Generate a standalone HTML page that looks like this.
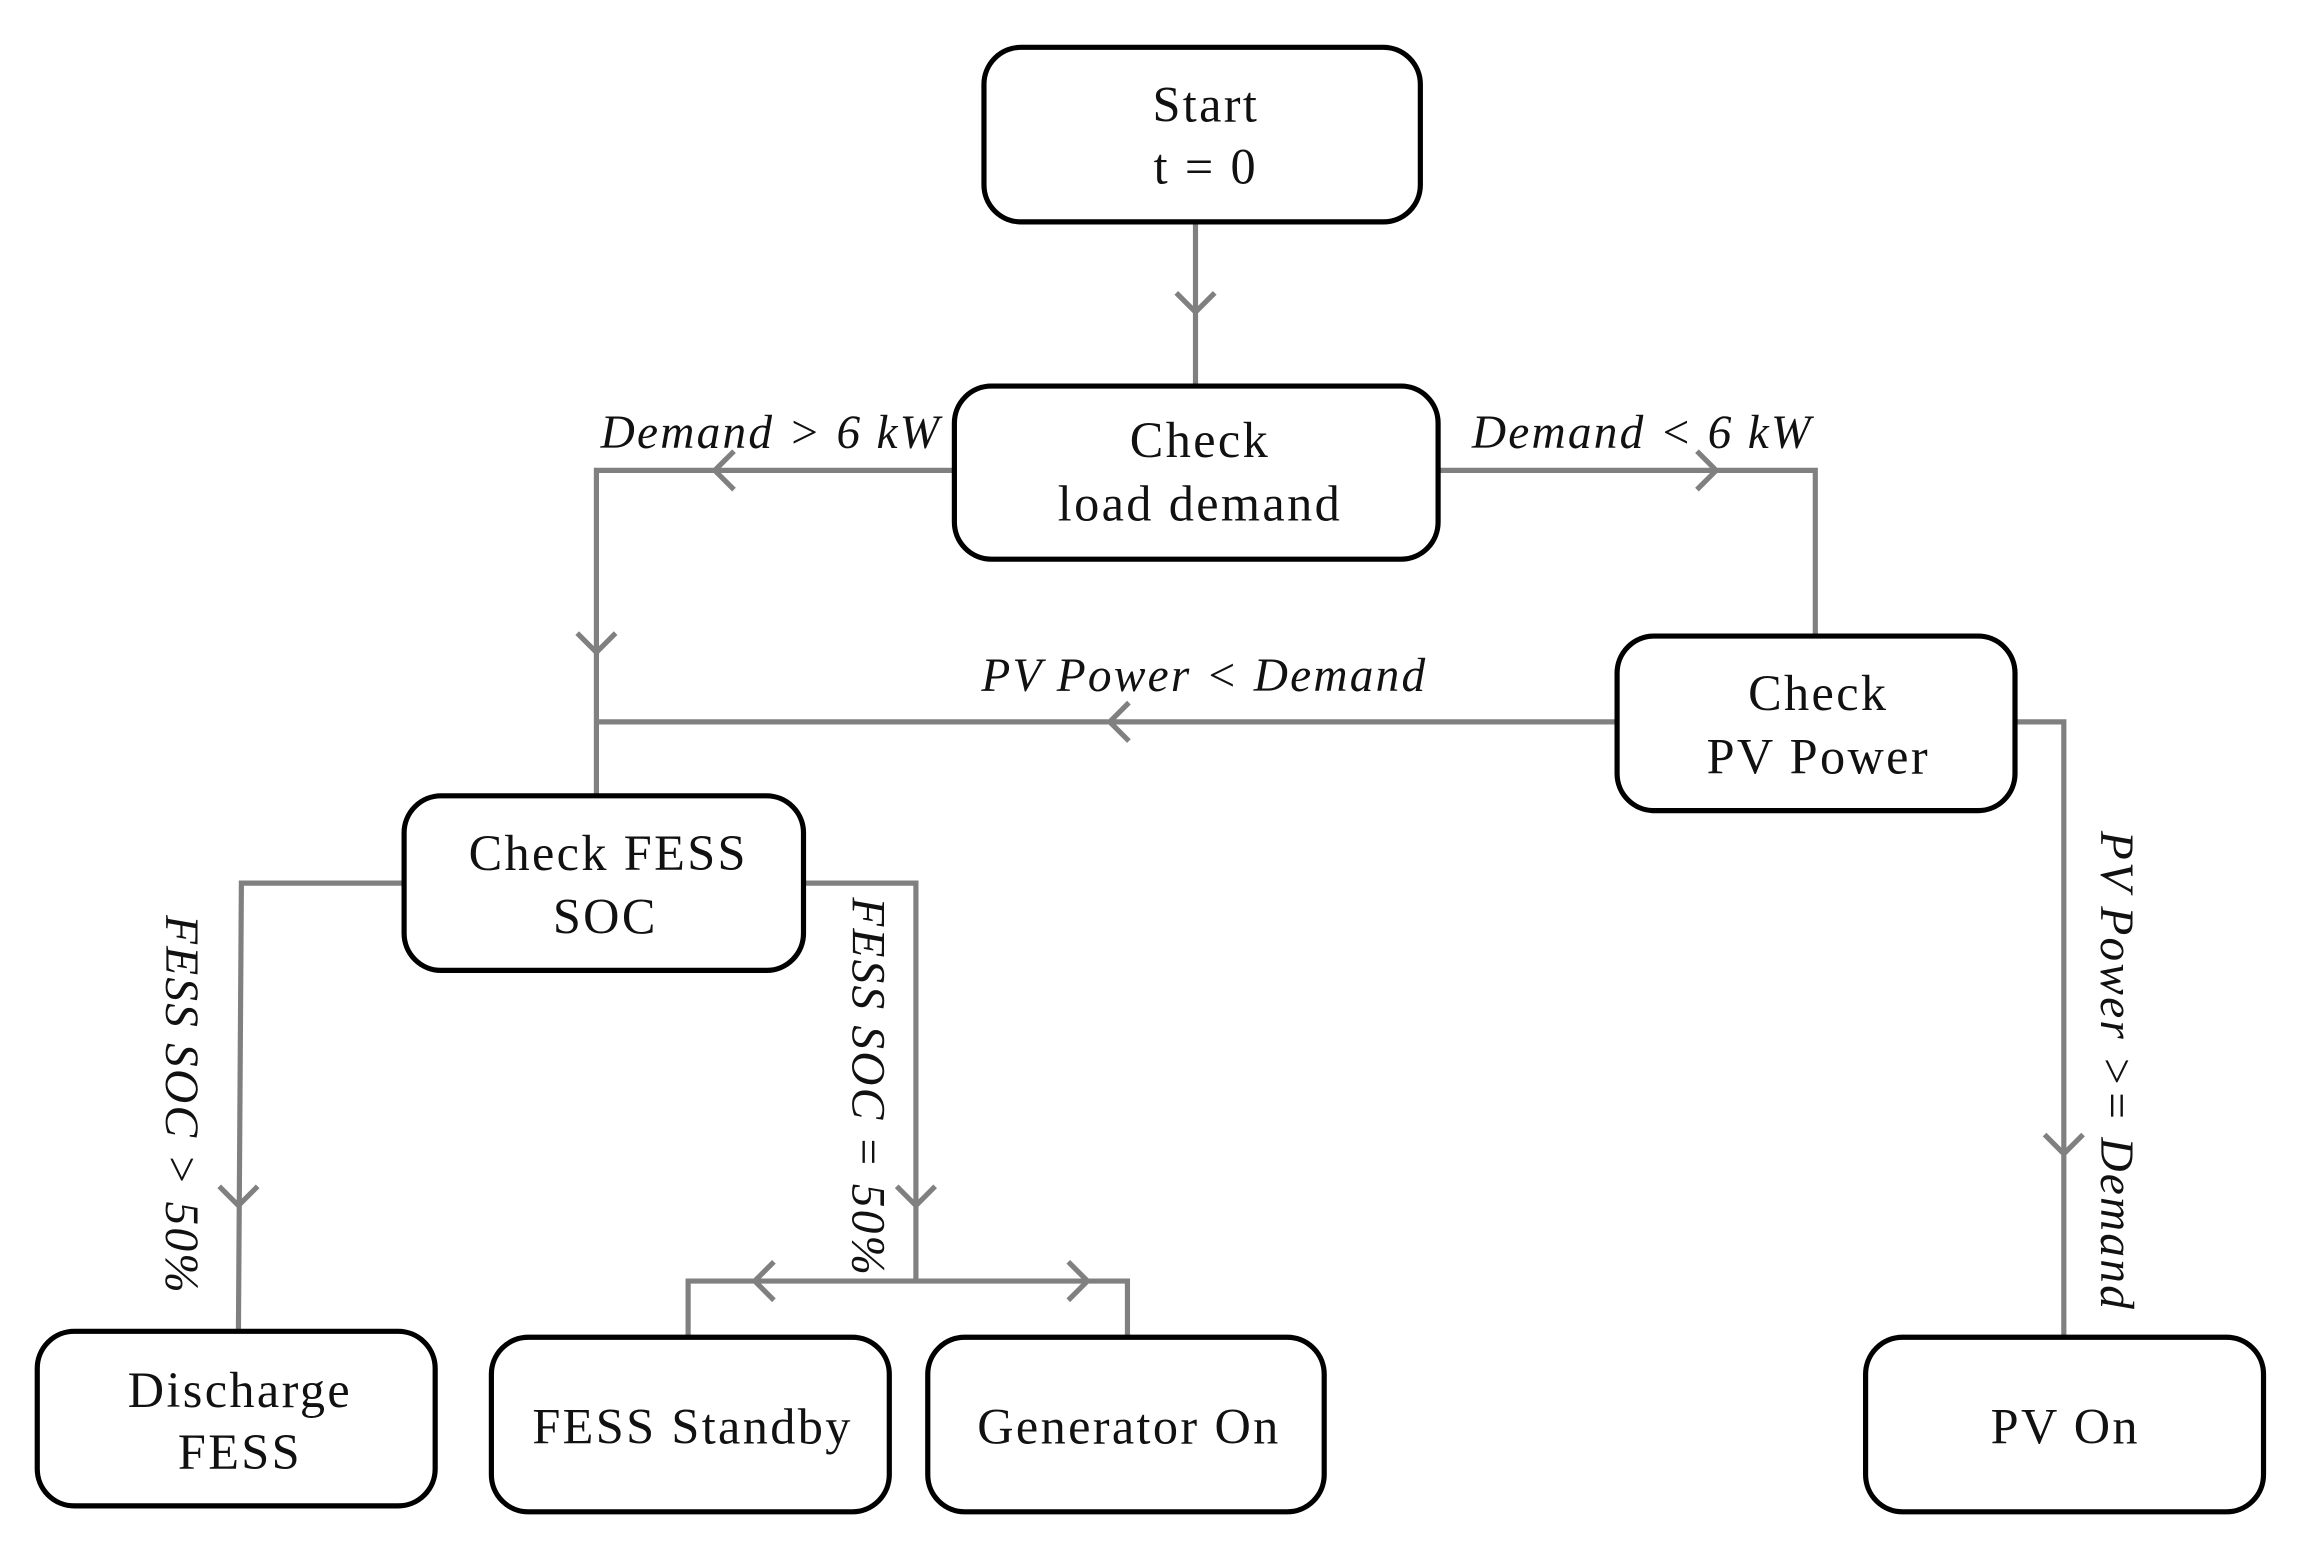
<!DOCTYPE html>
<html><head><meta charset="utf-8"><style>
html,body{margin:0;padding:0;background:#fff;}
svg{display:block;}
text{font-family:"Liberation Serif",serif;fill:#111;}
.b{fill:#fff;stroke:#000;stroke-width:3.5;}
.l{fill:none;stroke:#808080;stroke-width:3.5;}
.t{font-size:34px;text-anchor:middle;letter-spacing:1.6px;}
.i{font-size:32px;font-style:italic;text-anchor:middle;letter-spacing:1.5px;}
</style></head><body>
<svg width="2320" height="1568" viewBox="0 0 1568 1060" xmlns="http://www.w3.org/2000/svg">
<path class="l" d="M808 150V261M795 198L808 211L821 198"/>
<path class="l" d="M645 318H403V538M496 305L483 318L496 331M390 428L403 441L416 428"/>
<path class="l" d="M972 318H1227V430M1147 305L1160 318L1147 331"/>
<path class="l" d="M1093 488H403M763 475L750 488L763 501"/>
<path class="l" d="M1362 488H1395V904M1382 767L1395 780L1408 767"/>
<path class="l" d="M273 597H163L161 900M148 802L161 815L174 802"/>
<path class="l" d="M543 597H619V866M606 802L619 815L632 802"/>
<path class="l" d="M465 904V866H762V904M523 853L510 866L523 879M722 853L735 866L722 879"/>
<rect class="b" x="665" y="32" width="295" height="118" rx="25"/>
<rect class="b" x="645" y="261" width="327" height="117" rx="25"/>
<rect class="b" x="1093" y="430" width="269" height="118" rx="25"/>
<rect class="b" x="273" y="538" width="270" height="118" rx="25"/>
<rect class="b" x="25" y="900" width="269" height="118" rx="25"/>
<rect class="b" x="332" y="904" width="269" height="118" rx="25"/>
<rect class="b" x="627" y="904" width="268" height="118" rx="25"/>
<rect class="b" x="1261" y="904" width="269" height="118" rx="25"/>
<text class="t" x="815" y="82">Start</text>
<text class="t" x="815" y="124">t = 0</text>
<text class="t" x="811" y="309">Check</text>
<text class="t" x="811" y="352">load demand</text>
<text class="t" x="1229" y="480">Check</text>
<text class="t" x="1229" y="523">PV Power</text>
<text class="t" x="411" y="588">Check FESS</text>
<text class="t" x="409" y="631">SOC</text>
<text class="t" x="162" y="951">Discharge</text>
<text class="t" x="162" y="993">FESS</text>
<text class="t" x="468" y="976">FESS Standby</text>
<text class="t" x="763" y="976">Generator On</text>
<text class="t" x="1396" y="976">PV On</text>
<text class="i" x="521" y="303">Demand &gt; 6 kW</text>
<text class="i" x="1110" y="303">Demand &lt; 6 kW</text>
<text class="i" x="814" y="467">PV Power &lt; Demand</text>
<text class="i" transform="translate(112,747) rotate(90)">FESS SOC &gt; 50%</text>
<text class="i" transform="translate(576,735) rotate(90)">FESS SOC = 50%</text>
<text class="i" transform="translate(1420,724) rotate(90)">PV Power &gt;= Demand</text>
</svg>
</body></html>
